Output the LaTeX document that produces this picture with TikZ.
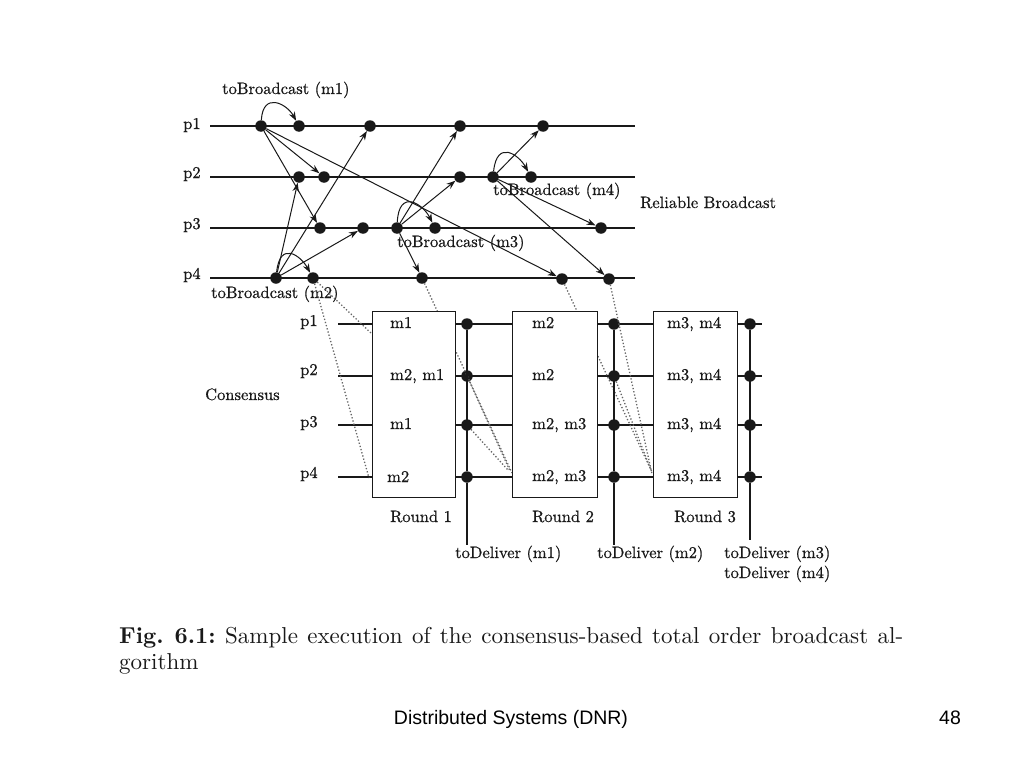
\documentclass[tikz,border=0pt]{standalone}
\usepackage{fontspec}
\newfontfamily\arialfont{Liberation Sans}
\newfontfamily\cmten{lmroman10-regular}[Extension=.otf, BoldFont=lmroman10-bold]
\newfontfamily\cmfig{lmroman10-regular}[Extension=.otf, FakeBold=0.6]
\usetikzlibrary{arrows.meta}
\definecolor{ink}{gray}{0.1}
\definecolor{dotink}{gray}{0.4}
\begin{document}
\begin{tikzpicture}[x=1pt,y=-1pt,
  proc/.style={line width=1.2pt, draw=ink},
  ev/.style={circle, fill=ink, inner sep=0pt, minimum size=11.5pt},
  msg/.style={line width=1pt, draw=ink, -{Stealth[length=9pt,width=6.5pt]}},
  dlv/.style={line width=1.3pt, draw=dotink, dotted},
  lbl/.style={anchor=base west, inner sep=0pt, font=\cmfig\fontsize{16.5}{20}\selectfont, text=ink},
  rbox/.style={draw=ink, line width=1.2pt, fill=white, inner sep=0pt, anchor=north west},
  decide/.style={line width=2.6pt, draw=ink},
  captxt/.style={anchor=base west, inner sep=0pt, font=\cmten\fontsize{23}{27}\selectfont\frenchspacing, text=ink},
]
\useasboundingbox (0,0) rectangle (1024,768);
\fill[white] (0,0) rectangle (1024,768);

% ---------- Reliable broadcast process lines
\foreach \n/\y in {1/126,2/177,3/228,4/278}{
  \coordinate (Ls\n) at (210,\y);
  \coordinate (Le\n) at (635,\y);
  \draw[proc] (Ls\n) -- (Le\n);
}
\node[lbl] (lp1) at (183,129) {p1};
\node[lbl] (lp2) at (183,178) {p2};
\node[lbl] (lp3) at (183,229) {p3};
\node[lbl] (lp4) at (183,279) {p4};

% events
\node[ev] (a1) at (261,126) {};
\node[ev] (a2) at (299,126) {};
\node[ev] (a3) at (370,126) {};
\node[ev] (a4) at (460,126) {};
\node[ev] (a5) at (543,126) {};
\node[ev] (b1) at (299,177) {};
\node[ev] (b2) at (324,177) {};
\node[ev] (b3) at (460,177) {};
\node[ev] (b4) at (493,177) {};
\node[ev] (b5) at (531,177) {};
\node[ev] (c1) at (320,228) {};
\node[ev] (c2) at (363,228) {};
\node[ev] (c3) at (397,228) {};
\node[ev] (c4) at (435,228) {};
\node[ev] (c5) at (601,228) {};
\node[ev] (d1) at (276,278) {};
\node[ev] (d2) at (313,278) {};
\node[ev] (d3) at (422,278) {};
\node[ev] (d4) at (562,279) {};
\node[ev] (d5) at (609,279) {};

% m1
\draw[msg] (a1) .. controls +(2,-35) and +(-12,-22) .. (a2);
\draw[msg] (a1) -- (b2);
\draw[msg] (a1) -- (c1);
\draw[msg] (a1) -- (d4);
% m2
\draw[msg] (d1) .. controls +(4,-38) and +(-12,-22) .. (d2);
\draw[msg] (d1) -- (a3);
\draw[msg] (d1) -- (b1);
\draw[msg] (d1) -- (c2);
% m3
\draw[msg] (c3) .. controls +(2,-40) and +(-12,-24) .. (c4);
\draw[msg] (c3) -- (a4);
\draw[msg] (c3) -- (b3);
\draw[msg] (c3) -- (d3);
% m4
\draw[msg] (b4) .. controls +(4,-38) and +(-12,-22) .. (b5);
\draw[msg] (b4) -- (a5);
\draw[msg] (b4) -- (c5);
\draw[msg] (b4) -- (d5);

\node[lbl] (tb1) at (222,94) {toBroadcast (m1)};
\node[lbl] (tb2) at (211,298) {toBroadcast (m2)};
\node[lbl] (tb3) at (397,247) {toBroadcast (m3)};
\node[lbl] (tb4) at (493,195) {toBroadcast (m4)};
\node[lbl] (rb) at (640,208) {Reliable Broadcast};

% ---------- Consensus part
\node[lbl] (cons) at (205,400) {Consensus};
\node[lbl] (q1) at (300,326) {p1};
\node[lbl] (q2) at (300,375) {p2};
\node[lbl] (q3) at (300,427) {p3};
\node[lbl] (q4) at (300,478) {p4};

\foreach \n/\y in {1/324,2/376,3/425,4/477}{
  \coordinate (s0\n) at (338,\y);
  \coordinate (s1\n) at (372,\y);
  \coordinate (t1\n) at (455,\y);
  \coordinate (s2\n) at (512,\y);
  \coordinate (t2\n) at (597,\y);
  \coordinate (s3\n) at (653,\y);
  \coordinate (t3\n) at (737,\y);
  \coordinate (e3\n) at (762,\y);
  \draw[proc] (s0\n) -- (s1\n);
  \draw[proc] (t1\n) -- (s2\n);
  \draw[proc] (t2\n) -- (s3\n);
  \draw[proc] (t3\n) -- (e3\n);
  \node[ev] (k1\n) at (467,\y) {};
  \node[ev] (k2\n) at (614,\y) {};
  \node[ev] (k3\n) at (750,\y) {};
}

% delivery (dotted) lines
\coordinate (r1a) at (372,334);
\coordinate (r1d) at (369,478);
\coordinate (r2d) at (512,473);
\coordinate (r2e) at (510,471);
\coordinate (r2f) at (508,470);
\coordinate (r3d) at (652,472);
\coordinate (r3e) at (652,474);
\coordinate (r3f) at (651,470);
\draw[dlv] (d2) -- (r1a);
\draw[dlv] (d2) -- (r1d);
\draw[dlv] (d3) -- (r2d);
\draw[dlv] (k12) -- (r2e);
\draw[dlv] (k13) -- (r2f);
\draw[dlv] (d4) -- (r3d);
\draw[dlv] (d5) -- (r3e);
\draw[dlv] (k22) -- (r3f);

% round boxes
\node[rbox, minimum width=83pt, minimum height=186pt] (B1) at (372,311) {};
\node[rbox, minimum width=85pt, minimum height=186pt] (B2) at (512,311) {};
\node[rbox, minimum width=84pt, minimum height=186pt] (B3) at (653,311) {};

\node[lbl] (x11) at (390,328) {m1};
\node[lbl] (x12) at (390,380) {m2, m1};
\node[lbl] (x13) at (390,429) {m1};
\node[lbl] (x14) at (387,482) {m2};
\node[lbl] (x21) at (532,328) {m2};
\node[lbl] (x22) at (532,380) {m2};
\node[lbl] (x23) at (532,429) {m2, m3};
\node[lbl] (x24) at (532,481) {m2, m3};
\foreach \n/\y in {1/328,2/380,3/429,4/481}{
  \node[lbl] (x3\n) at (667,\y) {m3, m4};
}
\node[lbl] (rd1) at (390,522) {Round 1};
\node[lbl] (rd2) at (532,522) {Round 2};
\node[lbl] (rd3) at (674,522) {Round 3};

% decision lines
\coordinate (v1) at (467,545);
\coordinate (v2) at (614,545);
\coordinate (v3) at (750,540);
\draw[decide] (k11) -- (k14);
\draw[proc] (k14) -- (v1);
\draw[decide] (k21) -- (k24);
\draw[proc] (k24) -- (v2);
\draw[decide] (k31) -- (k34);
\draw[decide] (k34) -- (v3);

\node[lbl] (td1) at (455,558) {toDeliver (m1)};
\node[lbl] (td2) at (597,558) {toDeliver (m2)};
\node[lbl] (td3) at (724,558) {toDeliver (m3)};
\node[lbl] (td4) at (724,578) {toDeliver (m4)};

% ---------- caption and footer
\node[captxt] (cap1) at (119,643)
  {\makebox[784pt][s]{\textbf{Fig.\ 6.1:} Sample execution of the consensus-based total order broadcast al-}};
\node[captxt] (cap2) at (119,669) {gorithm};
\node[anchor=base, inner sep=0pt, font=\arialfont\fontsize{19.5}{23}\selectfont] (foot) at (511,724) {Distributed Systems (DNR)};
\node[anchor=base, inner sep=0pt, font=\arialfont\fontsize{19.5}{23}\selectfont] (pg) at (950,724) {48};
\end{tikzpicture}
\end{document}
